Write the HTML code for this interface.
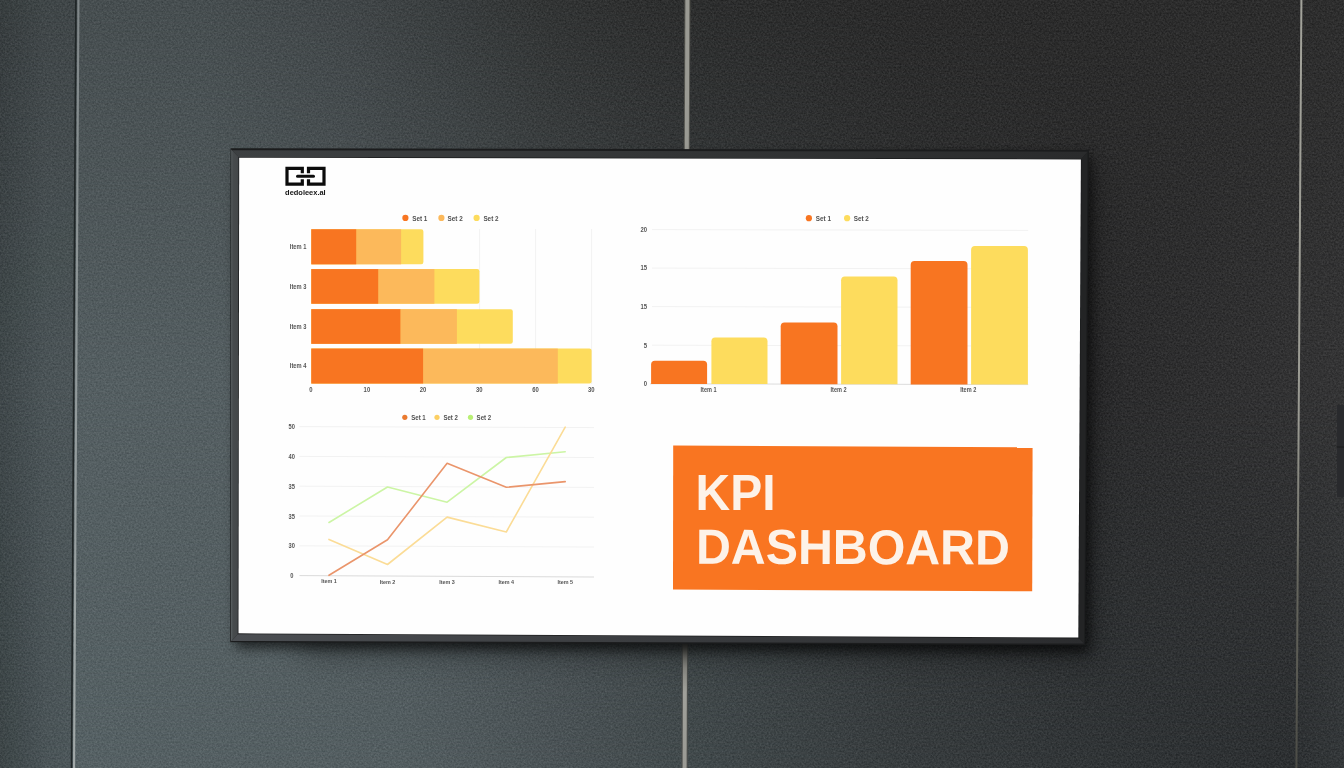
<!DOCTYPE html>
<html lang="en">
<head>
<meta charset="utf-8">
<title>KPI Dashboard</title>
<style>
html,body{margin:0;padding:0;background:#2e3132;}
body{width:1344px;height:768px;overflow:hidden;position:relative;font-family:"Liberation Sans",sans-serif;}
svg{position:absolute;left:0;top:0;display:block;}
text{font-family:"Liberation Sans",sans-serif;}
</style>
</head>
<body>
<svg width="1344" height="768" viewBox="0 0 1344 768">
<defs>
  <linearGradient id="wTop" x1="0" y1="0" x2="1344" y2="0" gradientUnits="userSpaceOnUse">
    <stop offset="0.0000" stop-color="#464d4f"/>
    <stop offset="0.0573" stop-color="#474e50"/>
    <stop offset="0.1488" stop-color="#474e50"/>
    <stop offset="0.2604" stop-color="#414648"/>
    <stop offset="0.3348" stop-color="#393d3e"/>
    <stop offset="0.4092" stop-color="#323434"/>
    <stop offset="0.4836" stop-color="#2e2f2f"/>
    <stop offset="0.5112" stop-color="#2d2e2e"/>
    <stop offset="0.6696" stop-color="#2b2b2b"/>
    <stop offset="0.9673" stop-color="#2d2d2d"/>
    <stop offset="1.0000" stop-color="#2e2e2e"/>
  </linearGradient>
  <linearGradient id="wMid" x1="0" y1="0" x2="1344" y2="0" gradientUnits="userSpaceOnUse">
    <stop offset="0.0000" stop-color="#515b5e"/>
    <stop offset="0.0573" stop-color="#555f62"/>
    <stop offset="0.1711" stop-color="#555f62"/>
    <stop offset="0.3348" stop-color="#4d5558"/>
    <stop offset="0.5112" stop-color="#3c4143"/>
    <stop offset="0.6696" stop-color="#323435"/>
    <stop offset="0.8110" stop-color="#2b2b2c"/>
    <stop offset="0.8929" stop-color="#2f2f30"/>
    <stop offset="0.9673" stop-color="#333334"/>
    <stop offset="1.0000" stop-color="#353536"/>
  </linearGradient>
  <linearGradient id="wBot" x1="0" y1="0" x2="1344" y2="0" gradientUnits="userSpaceOnUse">
    <stop offset="0.0000" stop-color="#4d575a"/>
    <stop offset="0.0573" stop-color="#566164"/>
    <stop offset="0.2976" stop-color="#545e61"/>
    <stop offset="0.4167" stop-color="#4b5356"/>
    <stop offset="0.5134" stop-color="#424a4c"/>
    <stop offset="0.6696" stop-color="#383d3f"/>
    <stop offset="0.8185" stop-color="#313537"/>
    <stop offset="0.9598" stop-color="#2d3032"/>
    <stop offset="1.0000" stop-color="#34383a"/>
  </linearGradient>
  <linearGradient id="mTopG" x1="0" y1="0" x2="0" y2="768" gradientUnits="userSpaceOnUse">
    <stop offset="0" stop-color="#fff"/><stop offset="0.5" stop-color="#000"/>
  </linearGradient>
  <linearGradient id="mBotG" x1="0" y1="0" x2="0" y2="768" gradientUnits="userSpaceOnUse">
    <stop offset="0.5" stop-color="#000"/><stop offset="1" stop-color="#fff"/>
  </linearGradient>
  <mask id="mTop" maskUnits="userSpaceOnUse" x="0" y="0" width="1344" height="768"><rect width="1344" height="768" fill="url(#mTopG)"/></mask>
  <mask id="mBot" maskUnits="userSpaceOnUse" x="0" y="0" width="1344" height="768"><rect width="1344" height="768" fill="url(#mBotG)"/></mask>
  <filter id="grain" x="0" y="0" width="1344" height="768" filterUnits="userSpaceOnUse" color-interpolation-filters="sRGB">
    <feTurbulence type="fractalNoise" baseFrequency="0.55" numOctaves="3" seed="7" result="n"/>
    <feColorMatrix in="n" type="matrix" values="1 0 0 0 0  1 0 0 0 0  1 0 0 0 0  0 0 0 0 1" result="g"/>
    <feComposite in="SourceGraphic" in2="g" operator="arithmetic" k1="0" k2="1" k3="0.15" k4="-0.075"/>
  </filter>
  <linearGradient id="seamR" x1="0" y1="0" x2="0" y2="768" gradientUnits="userSpaceOnUse">
    <stop offset="0" stop-color="#a3a39b"/><stop offset="0.55" stop-color="#9a9a92"/><stop offset="0.75" stop-color="#66665e"/><stop offset="1" stop-color="#4c4c46"/>
  </linearGradient>
  <filter id="blur6" x="200" y="120" width="930" height="570" filterUnits="userSpaceOnUse"><feGaussianBlur stdDeviation="6"/></filter>
  <linearGradient id="fTop" x1="231" y1="0" x2="1088" y2="0" gradientUnits="userSpaceOnUse">
    <stop offset="0" stop-color="#3d4042"/><stop offset="0.5" stop-color="#333536"/><stop offset="1" stop-color="#2a2b2c"/>
  </linearGradient>
  <linearGradient id="fBot" x1="231" y1="0" x2="1088" y2="0" gradientUnits="userSpaceOnUse">
    <stop offset="0" stop-color="#4b4e52"/><stop offset="0.5" stop-color="#3a3c3f"/><stop offset="1" stop-color="#2b2c2e"/>
  </linearGradient>
  <linearGradient id="fLeft" x1="231" y1="0" x2="239" y2="0" gradientUnits="userSpaceOnUse">
    <stop offset="0" stop-color="#5a6062"/><stop offset="0.25" stop-color="#474b4d"/><stop offset="1" stop-color="#434648"/>
  </linearGradient>
  <linearGradient id="seamM" x1="0" y1="643" x2="0" y2="768" gradientUnits="userSpaceOnUse">
    <stop offset="0" stop-color="#4e4f4c"/><stop offset="0.2" stop-color="#8a8a84"/><stop offset="0.4" stop-color="#a0a09a"/><stop offset="1" stop-color="#9a9a94"/>
  </linearGradient>
  <filter id="blur16" x="150" y="60" width="1050" height="700" filterUnits="userSpaceOnUse"><feGaussianBlur stdDeviation="14"/></filter>
  <linearGradient id="seamL" x1="0" y1="0" x2="0" y2="768" gradientUnits="userSpaceOnUse">
    <stop offset="0" stop-color="#7f8688"/><stop offset="0.5" stop-color="#929a9b"/><stop offset="1" stop-color="#a2a9a9"/>
  </linearGradient>
  <linearGradient id="edgeL" x1="0" y1="0" x2="46" y2="0" gradientUnits="userSpaceOnUse">
    <stop offset="0" stop-color="#000" stop-opacity="0.13"/><stop offset="1" stop-color="#000" stop-opacity="0"/>
  </linearGradient>
</defs>
<!-- WALL -->
<g id="wall" filter="url(#grain)">
  <rect x="0" y="0" width="1344" height="768" fill="url(#wMid)"/>
  <rect x="0" y="0" width="1344" height="768" fill="url(#wTop)" mask="url(#mTop)"/>
  <rect x="0" y="0" width="1344" height="768" fill="url(#wBot)" mask="url(#mBot)"/>
  <polygon points="0,0 76,0 71.5,768 0,768" fill="#000" opacity="0.09"/>
  <rect x="0" y="0" width="46" height="768" fill="url(#edgeL)"/>
</g>
<!-- SEAMS -->
<g id="seams">
  <!-- left seam -->
  <line x1="75.9" y1="0" x2="71.5" y2="768" stroke="#1f2526" stroke-width="1.6"/>
  <polygon points="77.4,0 79.5,0 75.1,768 73,768" fill="url(#seamL)"/>
  <!-- middle seam (above tv) -->
  <line x1="687.4" y1="0" x2="686.8" y2="150" stroke="#55554f" stroke-width="6"/>
  <line x1="687.4" y1="0" x2="686.8" y2="150" stroke="#9a9a93" stroke-width="4"/>
  <!-- middle seam (below tv) -->
  <line x1="685" y1="643" x2="684.6" y2="768" stroke="#4c4e4c" stroke-width="6.4"/>
  <line x1="685" y1="643" x2="684.6" y2="768" stroke="url(#seamM)" stroke-width="4"/>
  <!-- right seam -->
  <polygon points="1300.4,0 1302.4,0 1297.4,768 1295.4,768" fill="url(#seamR)"/>
  <!-- right-edge object -->
  <rect x="1337" y="405" width="8" height="41.5" fill="#292a2d"/>
  <rect x="1337" y="447.5" width="8" height="49.5" fill="#292a2d"/><rect x="1337" y="446.3" width="8" height="1.4" fill="#1c1d1f"/>
</g>
<!-- TV -->
<g id="tv">
  <!-- soft shadow under / right of tv -->
  <polygon points="300,200 1094,170 1094,660 300,656" fill="#000" opacity="0.28" filter="url(#blur16)"/>
  <polygon points="236,160 1091,156 1089,652 236,648" fill="#000" opacity="0.62" filter="url(#blur6)"/>
  <!-- outer frame -->
  <polygon points="230.6,148.2 1088.9,149.8 1085.2,645.2 230.2,642.2" fill="#1b1c1d"/>
  <!-- frame faces -->
  <polygon points="232,150.2 1087.6,151.7 1081.4,158.8 239,157.4" fill="url(#fTop)"/>
  <polygon points="231.2,149.6 239,157.4 238.3,633.7 230.9,641.4" fill="url(#fLeft)"/>
  <polygon points="231.6,641 238.3,633.7 1078.6,637.9 1084.2,643.6" fill="url(#fBot)"/>
  <polygon points="1087.6,151.7 1084.2,643.6 1078.6,637.9 1081.4,158.8" fill="#232425"/>
  <!-- inner bezel line -->
  <polygon points="238.4,156.9 1081.8,158.5 1079.1,638.4 237.7,634.2" fill="#1e1f20"/>
  <!-- screen -->
  <polygon points="239.2,157.8 1080.9,159.4 1078.3,637.5 238.5,633.3" fill="#fefefe"/>
</g>
<!-- CONTENT -->
<g id="content">
  <!-- LOGO -->
  <g id="logo" fill="none" stroke="#0c0c0c">
    <path d="M302.3,173.2 V168.3 H287 V184.1 H302.3 V179.2" stroke-width="3.2" stroke-linejoin="miter"/>
    <path d="M308.5,173.2 V168.3 H324 V184.1 H308.5 V179.2" stroke-width="3.2" stroke-linejoin="miter"/>
    <line x1="297.5" y1="176.2" x2="313.5" y2="176.2" stroke-width="3" stroke-linecap="round"/>
  </g>
  <text x="285.1" y="194.7" font-size="7.8" font-weight="700" fill="#141414" textLength="40.6" lengthAdjust="spacingAndGlyphs">dedoleex.al</text>

  <!-- CHART 1 : stacked horizontal bars -->
  <g id="chart1">
    <g stroke="#f2f2f2" stroke-width="1">
      <line x1="479.6" y1="229" x2="479.6" y2="384"/>
      <line x1="535.6" y1="229" x2="535.6" y2="384"/>
      <line x1="591.6" y1="229" x2="591.6" y2="384"/>
    </g>
    <g font-size="7.3" font-weight="700" fill="#505050">
      <circle cx="405.4" cy="217.9" r="3.1" fill="#f87521"/><text x="412.2" y="220.6" textLength="15.18" lengthAdjust="spacingAndGlyphs">Set 1</text>
      <circle cx="441.4" cy="217.9" r="3.1" fill="#fcb95b"/><text x="447.6" y="220.6" textLength="15.18" lengthAdjust="spacingAndGlyphs">Set 2</text>
      <circle cx="476.6" cy="217.9" r="3.1" fill="#fddc5d"/><text x="483.4" y="220.6" textLength="15.18" lengthAdjust="spacingAndGlyphs">Set 2</text>
    </g>
    <!-- bar 1 -->
    <path d="M311.3,229.3 H421.2 a2.2,2.2 0 0 1 2.2,2.2 V262.1 a2.2,2.2 0 0 1 -2.2,2.2 H311.3 Z" fill="#fddc5d"/>
    <rect x="311.3" y="229.3" width="89.8" height="35.0" fill="#fcb95b"/>
    <rect x="311.3" y="229.3" width="44.9" height="35.0" fill="#f87521"/>
    <!-- bar 2 -->
    <path d="M311.3,269.1 H477.2 a2.2,2.2 0 0 1 2.2,2.2 V301.5 a2.2,2.2 0 0 1 -2.2,2.2 H311.3 Z" fill="#fddc5d"/>
    <rect x="311.3" y="269.1" width="123.1" height="34.6" fill="#fcb95b"/>
    <rect x="311.3" y="269.1" width="66.9" height="34.6" fill="#f87521"/>
    <!-- bar 3 -->
    <path d="M311.3,309.2 H510.6 a2.2,2.2 0 0 1 2.2,2.2 V341.6 a2.2,2.2 0 0 1 -2.2,2.2 H311.3 Z" fill="#fddc5d"/>
    <rect x="311.3" y="309.2" width="145.6" height="34.6" fill="#fcb95b"/>
    <rect x="311.3" y="309.2" width="89.1" height="34.6" fill="#f87521"/>
    <!-- bar 4 -->
    <path d="M311.3,348.6 H589.4 a2.2,2.2 0 0 1 2.2,2.2 V381.3 a2.2,2.2 0 0 1 -2.2,2.2 H311.3 Z" fill="#fddc5d"/>
    <rect x="311.3" y="348.6" width="246.5" height="34.9" fill="#fcb95b"/>
    <rect x="311.3" y="348.6" width="111.8" height="34.9" fill="#f87521"/>
    <g font-size="6.6" font-weight="700" fill="#555" text-anchor="end">
      <text x="306.4" y="249" textLength="16.58" lengthAdjust="spacingAndGlyphs">Item 1</text>
      <text x="306.4" y="288.8" textLength="16.58" lengthAdjust="spacingAndGlyphs">Item 3</text>
      <text x="306.4" y="328.6" textLength="16.58" lengthAdjust="spacingAndGlyphs">Item 3</text>
      <text x="306.4" y="368" textLength="16.58" lengthAdjust="spacingAndGlyphs">Item 4</text>
    </g>
    <g font-size="6.8" font-weight="700" fill="#555" text-anchor="middle">
      <text x="310.8" y="391.6" textLength="3.29" lengthAdjust="spacingAndGlyphs">0</text>
      <text x="366.9" y="391.6" textLength="6.58" lengthAdjust="spacingAndGlyphs">10</text>
      <text x="423.1" y="391.6" textLength="6.58" lengthAdjust="spacingAndGlyphs">20</text>
      <text x="479.3" y="391.6" textLength="6.58" lengthAdjust="spacingAndGlyphs">30</text>
      <text x="535.5" y="391.6" textLength="6.58" lengthAdjust="spacingAndGlyphs">60</text>
      <text x="591.3" y="391.6" textLength="6.58" lengthAdjust="spacingAndGlyphs">30</text>
    </g>
  </g>

  <!-- CHART 2 : grouped vertical bars -->
  <g id="chart2">
    <g stroke="#f2f2f2" stroke-width="1">
      <line x1="652" y1="229.6" x2="1028.2" y2="230.4"/>
      <line x1="652" y1="268.1" x2="1028.2" y2="268.9"/>
      <line x1="652" y1="306.6" x2="1028.2" y2="307.4"/>
      <line x1="652" y1="345.2" x2="1028.2" y2="346"/>
      <line x1="650" y1="383.8" x2="1028.2" y2="384.6" stroke="#dcdcdc"/>
    </g>
    <g font-size="7.3" font-weight="700" fill="#505050">
      <circle cx="808.9" cy="218.2" r="3.1" fill="#f87521"/><text x="815.8" y="220.9" textLength="15.18" lengthAdjust="spacingAndGlyphs">Set 1</text>
      <circle cx="847.1" cy="218.2" r="3.1" fill="#fddc5d"/><text x="853.7" y="220.9" textLength="15.18" lengthAdjust="spacingAndGlyphs">Set 2</text>
    </g>
    <g font-size="6.8" font-weight="700" fill="#555" text-anchor="end">
      <text x="647" y="231.8" textLength="6.58" lengthAdjust="spacingAndGlyphs">20</text>
      <text x="647" y="270.4" textLength="6.58" lengthAdjust="spacingAndGlyphs">15</text>
      <text x="647" y="308.9" textLength="6.58" lengthAdjust="spacingAndGlyphs">15</text>
      <text x="647" y="347.5" textLength="3.29" lengthAdjust="spacingAndGlyphs">5</text>
      <text x="647" y="386.1" textLength="3.29" lengthAdjust="spacingAndGlyphs">0</text>
    </g>
    <path d="M651.1,384 V364.5 a3.8,3.8 0 0 1 3.8,-3.8 H703.3 a3.8,3.8 0 0 1 3.8,3.8 V384 Z" fill="#f87521"/>
    <path d="M711.4,384 V341.3 a3.8,3.8 0 0 1 3.8,-3.8 H763.7 a3.8,3.8 0 0 1 3.8,3.8 V384 Z" fill="#fddc5d"/>
    <path d="M780.7,384.2 V326.3 a3.8,3.8 0 0 1 3.8,-3.8 H833.7 a3.8,3.8 0 0 1 3.8,3.8 V384.2 Z" fill="#f87521"/>
    <path d="M841.1,384.3 V280.2 a3.8,3.8 0 0 1 3.8,-3.8 H893.7 a3.8,3.8 0 0 1 3.8,3.8 V384.3 Z" fill="#fddc5d"/>
    <path d="M910.7,384.5 V264.9 a3.8,3.8 0 0 1 3.8,-3.8 H963.7 a3.8,3.8 0 0 1 3.8,3.8 V384.5 Z" fill="#f87521"/>
    <path d="M971.1,384.6 V249.9 a3.8,3.8 0 0 1 3.8,-3.8 H1024.1 a3.8,3.8 0 0 1 3.8,3.8 V384.6 Z" fill="#fddc5d"/>
    <g font-size="6.4" font-weight="700" fill="#555" text-anchor="middle">
      <text x="708.6" y="391.6" textLength="16.08" lengthAdjust="spacingAndGlyphs">Item 1</text>
      <text x="838.6" y="391.9" textLength="16.08" lengthAdjust="spacingAndGlyphs">Item 2</text>
      <text x="968.2" y="392.2" textLength="16.08" lengthAdjust="spacingAndGlyphs">Item 2</text>
    </g>
  </g>

  <!-- CHART 3 : lines -->
  <g id="chart3">
    <g stroke="#f2f2f2" stroke-width="1">
      <line x1="299.5" y1="426.6" x2="594" y2="427.6"/>
      <line x1="299.5" y1="456.4" x2="594" y2="457.5"/>
      <line x1="299.5" y1="486.2" x2="594" y2="487.4"/>
      <line x1="299.5" y1="516" x2="594" y2="517.2"/>
      <line x1="299.5" y1="545.8" x2="594" y2="547"/>
      <line x1="299.5" y1="575.6" x2="594" y2="577" stroke="#dadada"/>
    </g>
    <g font-size="7" font-weight="700" fill="#505050">
      <circle cx="404.8" cy="417.3" r="2.6" fill="#ea7a30"/><text x="411.2" y="420" textLength="14.56" lengthAdjust="spacingAndGlyphs">Set 1</text>
      <circle cx="437" cy="417.3" r="2.6" fill="#fccf63"/><text x="443.4" y="420" textLength="14.56" lengthAdjust="spacingAndGlyphs">Set 2</text>
      <circle cx="470.5" cy="417.3" r="2.6" fill="#b9f075"/><text x="476.6" y="420" textLength="14.56" lengthAdjust="spacingAndGlyphs">Set 2</text>
    </g>
    <g font-size="6.6" font-weight="700" fill="#555" text-anchor="middle">
      <text x="291.8" y="428.9" textLength="6.39" lengthAdjust="spacingAndGlyphs">50</text>
      <text x="291.8" y="458.9" textLength="6.39" lengthAdjust="spacingAndGlyphs">40</text>
      <text x="291.8" y="488.7" textLength="6.39" lengthAdjust="spacingAndGlyphs">35</text>
      <text x="291.8" y="518.5" textLength="6.39" lengthAdjust="spacingAndGlyphs">35</text>
      <text x="291.8" y="548.3" textLength="6.39" lengthAdjust="spacingAndGlyphs">30</text>
      <text x="291.8" y="577.7" textLength="3.19" lengthAdjust="spacingAndGlyphs">0</text>
    </g>
    <g fill="none" stroke-width="1.6" stroke-linejoin="round" stroke-linecap="round">
      <polyline points="329,522.5 387.5,487 447.1,502.2 506.3,457.5 565.2,451.8" stroke="#ccf5a5"/>
      <polyline points="329,539.4 387.5,564.5 447.1,517.1 506.3,532 565.2,427.1" stroke="#fbdc96"/>
      <polyline points="329,575.3 387.5,539.8 447.1,463.3 506.3,487.3 565.2,481.6" stroke="#ea956b"/>
    </g>
    <g font-size="6.2" font-weight="700" fill="#555" text-anchor="middle">
      <text x="329" y="583.4" textLength="15.56" lengthAdjust="spacingAndGlyphs">Item 1</text>
      <text x="387.5" y="583.6" textLength="15.56" lengthAdjust="spacingAndGlyphs">Item 2</text>
      <text x="447.1" y="583.8" textLength="15.56" lengthAdjust="spacingAndGlyphs">Item 3</text>
      <text x="506.3" y="584" textLength="15.56" lengthAdjust="spacingAndGlyphs">Item 4</text>
      <text x="565.2" y="584.2" textLength="15.56" lengthAdjust="spacingAndGlyphs">Item 5</text>
    </g>
  </g>

  <!-- KPI BOX -->
  <g id="kpi">
    <polygon points="673.2,445.6 1032.6,447.3 1032.2,591.3 673,589.6" fill="#f97521"/>
    <text x="695.6" y="509.7" font-size="49.3" font-weight="700" fill="#fdf2e8" textLength="80" lengthAdjust="spacingAndGlyphs">KPI</text>
    <text x="695.9" y="563.7" font-size="49.3" font-weight="700" fill="#fdf2e8" textLength="314" lengthAdjust="spacingAndGlyphs" transform="rotate(0.15 697 564)">DASHBOARD</text>
  </g>
</g>
</svg>
</body>
</html>
